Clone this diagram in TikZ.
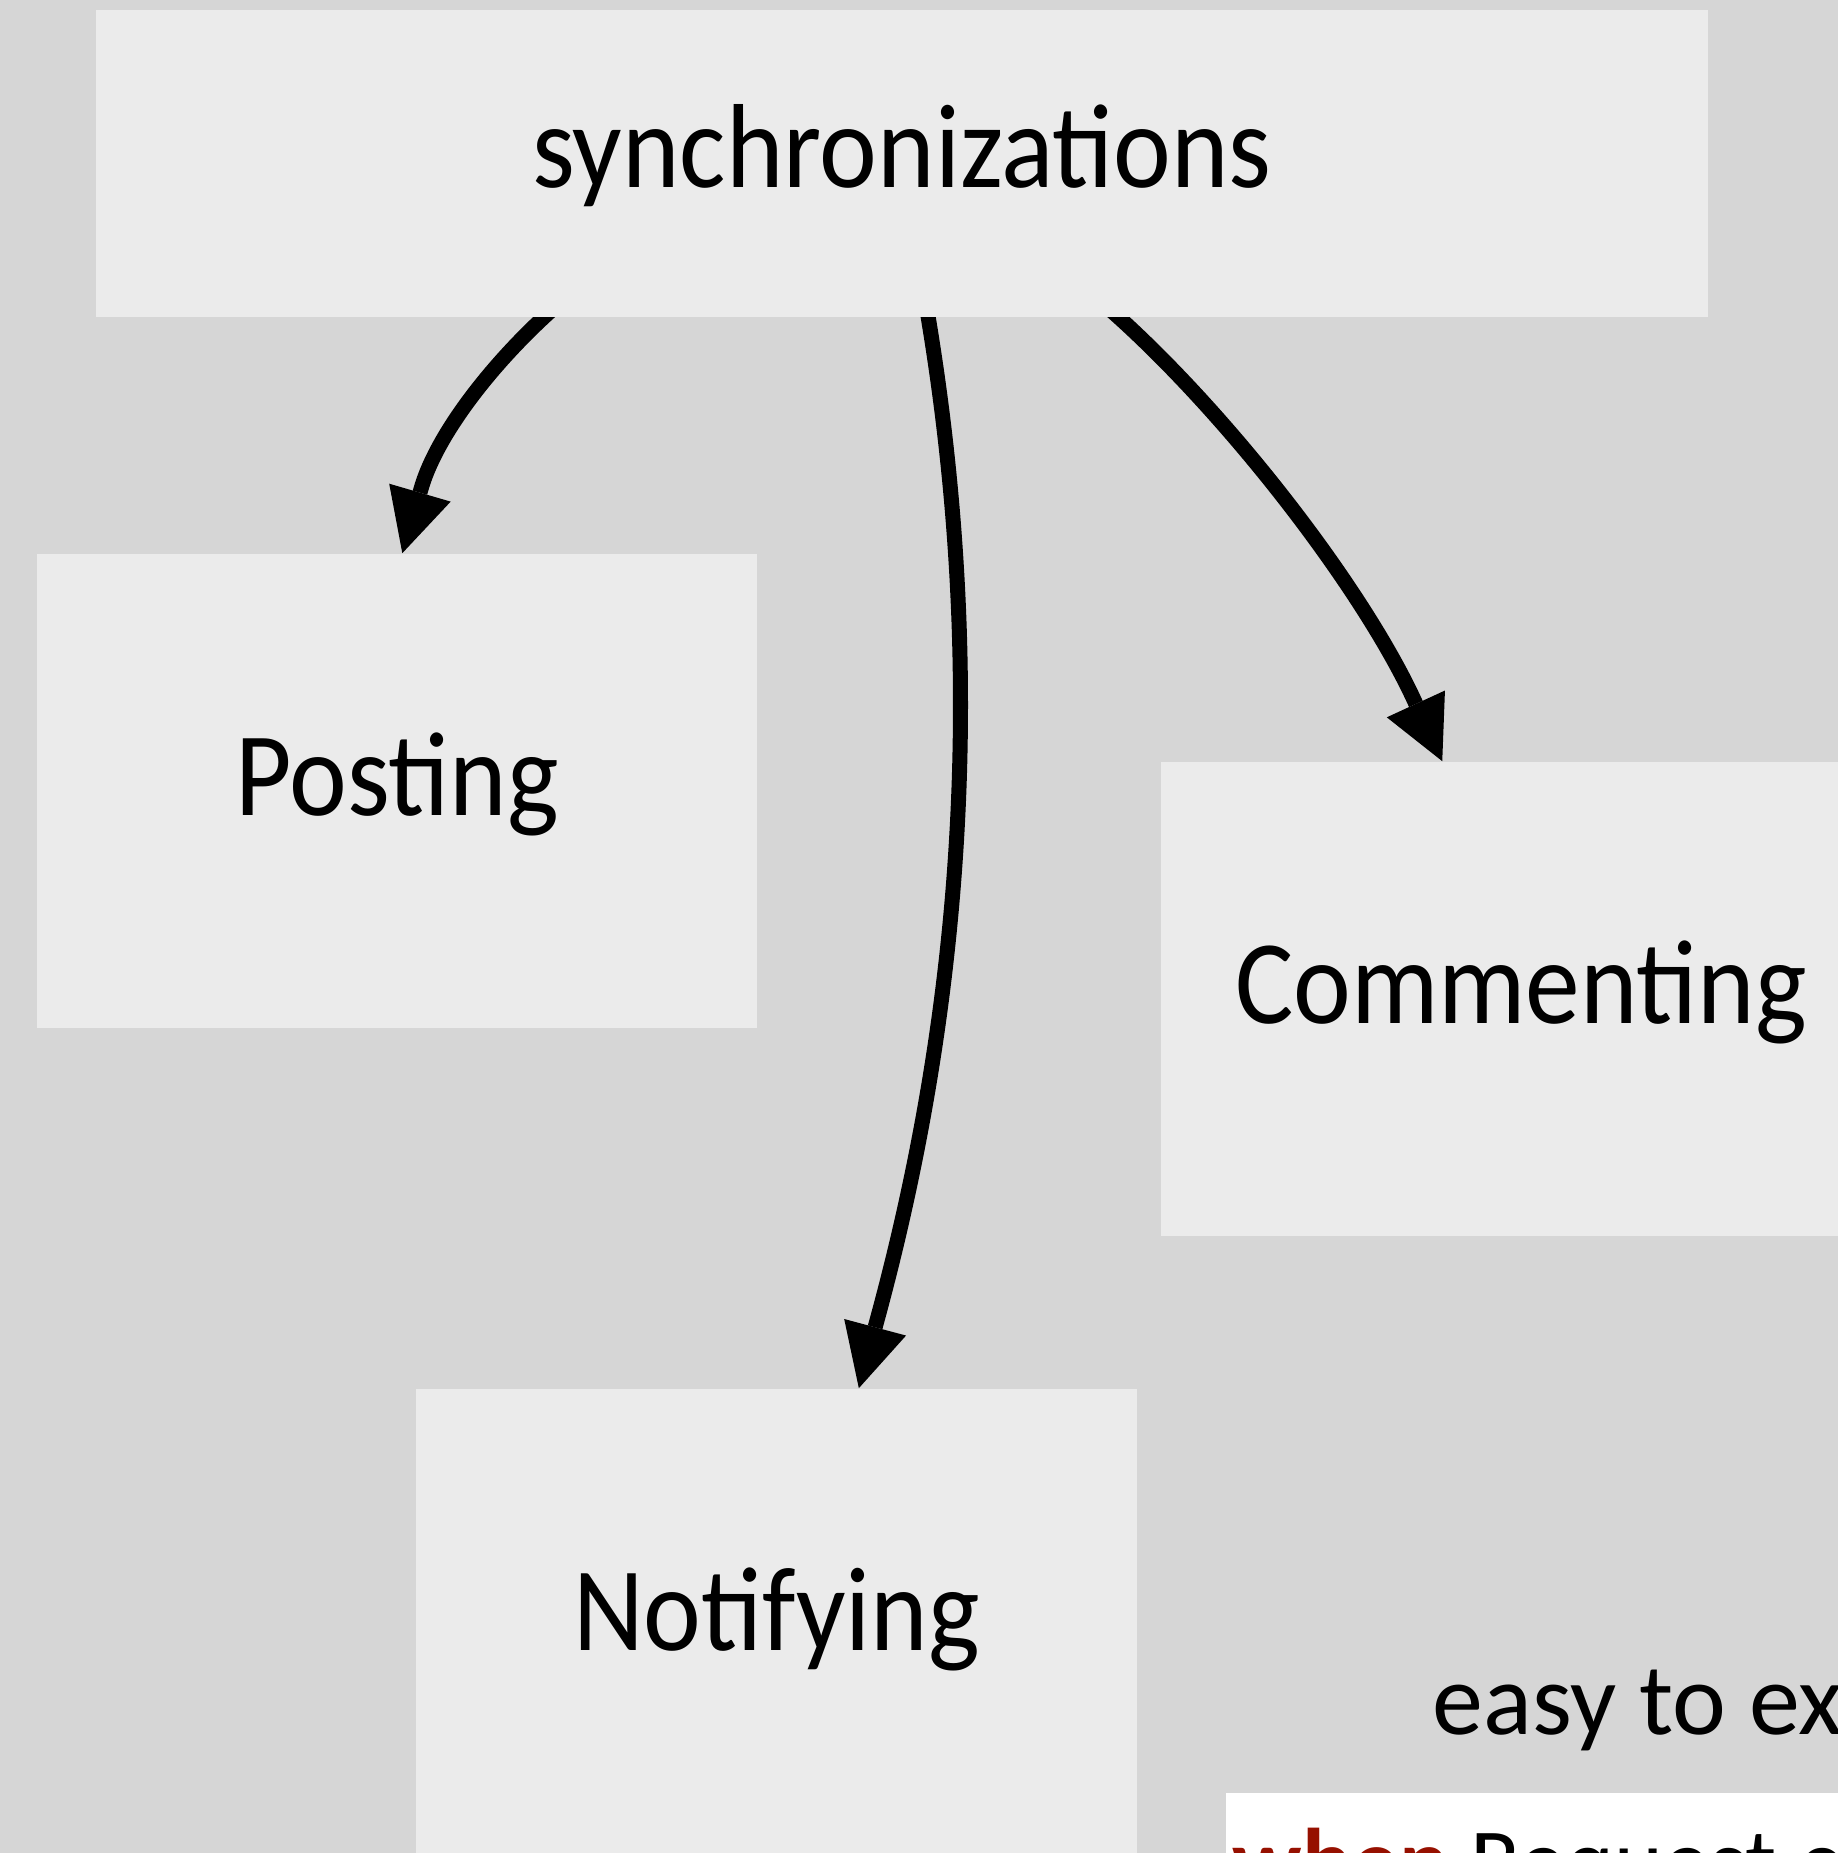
\documentclass[tikz,border=0pt]{standalone}
\usepackage{fontspec}
\setmainfont[FakeStretch=0.915]{Carlito}
\newfontfamily\plainfont{Carlito}
\usetikzlibrary{arrows.meta,backgrounds}
\definecolor{pagebg}{HTML}{D6D6D6}
\definecolor{boxbg}{HTML}{EBEBEB}
\definecolor{kwred}{RGB}{150,16,0}
\begin{document}
\begin{tikzpicture}[x=0.01cm,y=-0.01cm,
  concept/.style={rectangle, fill=boxbg, draw=none, inner sep=0pt,
    minimum width=7.2cm, minimum height=4.74cm,
    text height=0.48cm, text depth=0pt,
    font=\fontsize{34}{40}\selectfont},
  syncedge/.style={-{Triangle[length=0.63cm,width=0.64cm,line width=0pt]},
    line width=0.15cm, shorten <=-0.1cm}]
\useasboundingbox (0,0) rectangle (1838,1853);
\begin{pgfonlayer}{background}
  \fill[pagebg] (0,0) rectangle (1838,1853);
\end{pgfonlayer}
\clip (0,0) rectangle (1838,1853);
\node[concept, minimum width=16.12cm, minimum height=3.07cm] (sync) at (902,163.5) {synchronizations};
\node[concept] (post) at (397,791) {Posting};
\node[concept] (comm) at (1521,999) {Commenting};
\node[concept] (notif) at (776.5,1626) {Notifying};
\node[anchor=base west, inner sep=0pt, font=\plainfont\fontsize{29}{34}\selectfont] (easy) at (1432,1734) {easy to ex};
\node[fill=white, anchor=north west, inner sep=0pt, minimum width=7cm, minimum height=2cm] (code) at (1225,1792) {};
\node[anchor=base west, inner sep=0pt, font=\plainfont\fontsize{26.5}{32}\selectfont] (codeline) at (1232,1893) {\textcolor{kwred}{\bfseries when} Request.c};
\begin{pgfonlayer}{background}
  \draw[syncedge] ([xshift=4.48cm]sync.south west) .. controls (483.8,371.7) and (434.6,440.5) .. (421,489) -- ([xshift=3.66cm]post.north west);
  \draw[syncedge] ([xshift=8.33cm]sync.south west) .. controls (985.3,654.1) and (967.3,991.1) .. (876,1324) -- ([xshift=4.43cm]notif.north west);
  \draw[syncedge] ([xshift=10.24cm]sync.south west) .. controls (1230.4,416.3) and (1363.8,590) .. (1415,702) -- ([xshift=2.82cm]comm.north west);
\end{pgfonlayer}
\end{tikzpicture}
\end{document}
